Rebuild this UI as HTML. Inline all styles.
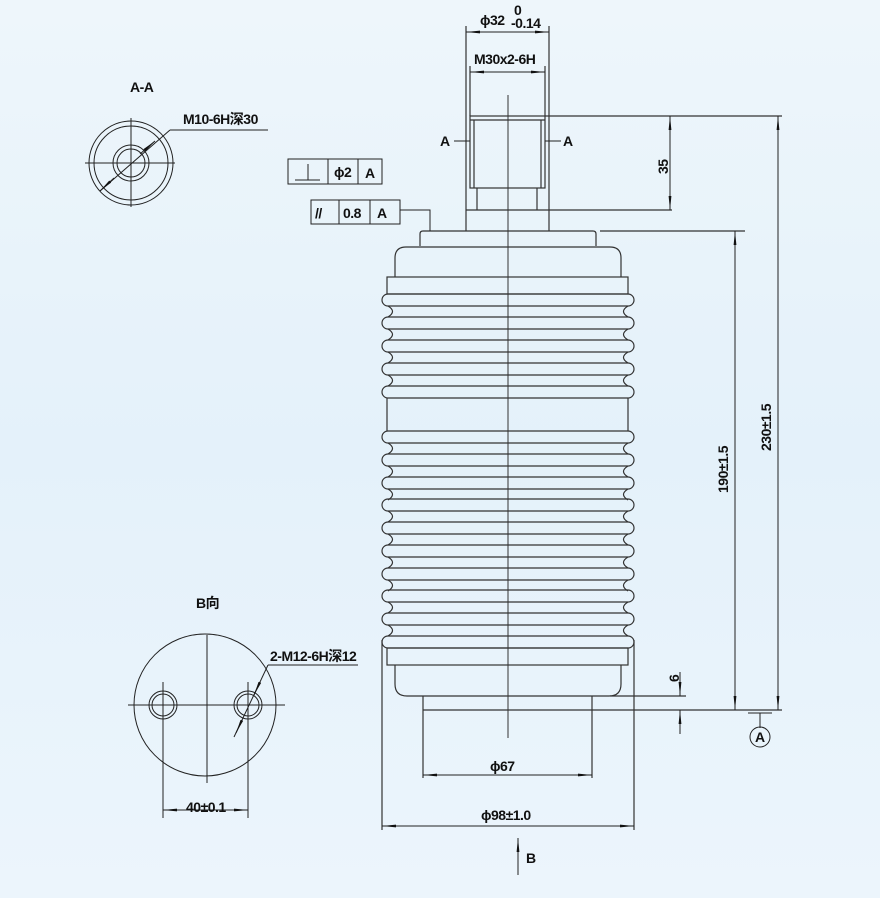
<!DOCTYPE html>
<html><head><meta charset="utf-8"><style>
html,body{margin:0;padding:0}
body{width:880px;height:898px;background:linear-gradient(#eef6fb,#e4f1fa 50%,#ecf5fc);overflow:hidden}
svg{display:block}
text{font-family:"Liberation Sans","Noto Sans CJK SC",sans-serif;font-size:14px;fill:#111;font-weight:bold;letter-spacing:-0.5px}
</style></head><body>
<svg width="880" height="898" viewBox="0 0 880 898" xmlns="http://www.w3.org/2000/svg">
<defs>
<marker id="ar" viewBox="0 0 14 6" refX="14" refY="3" markerWidth="14" markerHeight="6" orient="auto-start-reverse" markerUnits="userSpaceOnUse"><path d="M0,1.6 L14,3 L0,4.4Z" fill="#111"/></marker>
<g id="rib" fill="none" stroke="#333" stroke-width="1.2">
<line x1="388" y1="-6" x2="628" y2="-6"/><line x1="388" y1="6" x2="628" y2="6"/>
<path d="M388,-6 A6,6 0 0 0 388,6"/><path d="M628,-6 A6,6 0 0 1 628,6"/>
</g>
<g id="val" fill="none" stroke="#333" stroke-width="1.2">
<path d="M388,6 Q397,11.5 388,17"/><path d="M628,6 Q619,11.5 628,17"/>
</g>
</defs>
<g fill="none" stroke="#333" stroke-width="1.2">
<line x1="466" y1="26" x2="466" y2="231"/><line x1="549" y1="26" x2="549" y2="231"/>
<line x1="470" y1="66" x2="470" y2="116"/><line x1="545" y1="66" x2="545" y2="116"/>
<rect x="470" y="116" width="75" height="72"/>
<line x1="474" y1="120" x2="474" y2="188"/><line x1="541" y1="120" x2="541" y2="188"/>
<line x1="470" y1="120" x2="545" y2="120"/>
<line x1="477" y1="188" x2="477" y2="210"/><line x1="537" y1="188" x2="537" y2="210"/>
<line x1="466" y1="210" x2="672" y2="210"/>
<line x1="545" y1="116" x2="782" y2="116"/>
<path d="M420,246 V234 Q420,231 423,231 H593 Q596,231 596,234 V246"/>
<path d="M395,277 V258 Q395,247 406,247 H610 Q621,247 621,258 V277"/>
<rect x="387" y="277" width="241" height="17"/>
<line x1="387" y1="398" x2="387" y2="431"/><line x1="628" y1="398" x2="628" y2="431"/>
<rect x="387" y="648" width="241" height="17"/>
<path d="M395,665 V684 Q395,696 407,696 H609 Q621,696 621,684 V665"/>
<line x1="423" y1="696" x2="423" y2="778"/><line x1="592" y1="696" x2="592" y2="778"/>
<line x1="423" y1="710" x2="782" y2="710"/>
<line x1="610" y1="696" x2="686" y2="696"/>
<line x1="382" y1="640" x2="382" y2="830"/><line x1="634" y1="640" x2="634" y2="830"/>
<line x1="600" y1="231" x2="745" y2="231"/>
</g>
<use href="#rib" y="300"/><use href="#val" y="300"/>
<use href="#rib" y="323"/><use href="#val" y="323"/>
<use href="#rib" y="346"/><use href="#val" y="346"/>
<use href="#rib" y="369"/><use href="#val" y="369"/>
<use href="#rib" y="392"/>
<use href="#rib" y="437"/><use href="#val" y="437"/>
<use href="#rib" y="460"/><use href="#val" y="460"/>
<use href="#rib" y="483"/><use href="#val" y="483"/>
<use href="#rib" y="505"/><use href="#val" y="505"/>
<use href="#rib" y="528"/><use href="#val" y="528"/>
<use href="#rib" y="551"/><use href="#val" y="551"/>
<use href="#rib" y="574"/><use href="#val" y="574"/>
<use href="#rib" y="596"/><use href="#val" y="596"/>
<use href="#rib" y="619"/><use href="#val" y="619"/>
<use href="#rib" y="642"/>
<line x1="508" y1="95" x2="508" y2="738" stroke="#333" stroke-width="1"/>
<g stroke="#222" stroke-width="1" fill="none">
<line x1="466" y1="32" x2="549" y2="32" marker-start="url(#ar)" marker-end="url(#ar)"/>
<line x1="470" y1="72" x2="545" y2="72" marker-start="url(#ar)" marker-end="url(#ar)"/>
<line x1="670" y1="116" x2="670" y2="210" marker-start="url(#ar)" marker-end="url(#ar)"/>
<line x1="735" y1="231" x2="735" y2="710" marker-start="url(#ar)" marker-end="url(#ar)"/>
<line x1="778" y1="116" x2="778" y2="710" marker-start="url(#ar)" marker-end="url(#ar)"/>
<line x1="680" y1="672" x2="680" y2="696" marker-end="url(#ar)"/>
<line x1="680" y1="734" x2="680" y2="710" marker-end="url(#ar)"/>
<line x1="423" y1="775" x2="592" y2="775" marker-start="url(#ar)" marker-end="url(#ar)"/>
<line x1="382" y1="826" x2="634" y2="826" marker-start="url(#ar)" marker-end="url(#ar)"/>
<line x1="518" y1="875" x2="518" y2="838" marker-end="url(#ar)"/>
<line x1="454" y1="141" x2="470" y2="141"/><line x1="545" y1="141" x2="561" y2="141"/>
<line x1="748" y1="713" x2="772" y2="713"/><line x1="760" y1="713" x2="760" y2="728"/>
<circle cx="760" cy="737" r="10"/>
<rect x="288" y="159" width="94" height="25"/><line x1="328" y1="159" x2="328" y2="184"/><line x1="358" y1="159" x2="358" y2="184"/>
<line x1="295" y1="180" x2="320" y2="180"/><line x1="308" y1="164" x2="308" y2="180"/>
<rect x="311" y="200" width="89" height="24"/><line x1="339" y1="200" x2="339" y2="224"/><line x1="370" y1="200" x2="370" y2="224"/>
<polyline points="400,210 430,210 430,231"/>
<circle cx="131" cy="163" r="42"/><circle cx="131" cy="163" r="37"/>
<circle cx="131" cy="163" r="18"/><circle cx="131" cy="163" r="14"/>
<line x1="85" y1="163" x2="175" y2="163"/><line x1="131" y1="118" x2="131" y2="207"/>
<line x1="100" y1="191" x2="170" y2="130"/><line x1="170" y1="130" x2="268" y2="130"/>
<line x1="100" y1="191" x2="114" y2="178" marker-start="url(#ar)"/>
<line x1="140" y1="154" x2="155" y2="141" marker-end="url(#ar)" />
<circle cx="205" cy="705" r="71"/>
<circle cx="163" cy="705" r="14"/><circle cx="163" cy="705" r="11"/>
<circle cx="248" cy="705" r="14"/><circle cx="248" cy="705" r="11"/>
<line x1="128" y1="705" x2="285" y2="705"/><line x1="207" y1="635" x2="207" y2="783"/>
<line x1="163" y1="682" x2="163" y2="818"/><line x1="248" y1="682" x2="248" y2="818"/>
<line x1="163" y1="810" x2="248" y2="810" marker-start="url(#ar)" marker-end="url(#ar)"/>
<line x1="234" y1="737" x2="268" y2="665"/><line x1="268" y1="665" x2="358" y2="665"/>
<line x1="236" y1="733" x2="242" y2="720" marker-start="url(#ar)"/>
<line x1="254" y1="695" x2="260" y2="682" marker-start="url(#ar)"/>
</g>
<g>
<text x="480" y="25">ϕ32</text><text x="514" y="15" font-size="9">0</text><text x="511" y="28" font-size="9">-0.14</text>
<text x="474" y="64">M30x2-6H</text>
<text x="440" y="146">A</text><text x="563" y="146">A</text>
<text transform="translate(668,174) rotate(-90)">35</text>
<text transform="translate(728,493) rotate(-90)">190±1.5</text>
<text transform="translate(771,451) rotate(-90)">230±1.5</text>
<text transform="translate(679,682) rotate(-90)">6</text>
<text x="755" y="742" font-size="12">A</text>
<text x="490" y="771">ϕ67</text>
<text x="481" y="820">ϕ98±1.0</text>
<text x="526" y="863">B</text>
<text x="334" y="177">ϕ2</text><text x="365" y="178">A</text>
<text x="315" y="218">//</text><text x="343" y="218">0.8</text><text x="377" y="218">A</text>
<text x="130" y="92">A-A</text>
<text x="183" y="124">M10-6H深30</text>
<text x="196" y="608" font-size="12">B向</text>
<text x="270" y="661" font-size="12">2-M12-6H深12</text>
<text x="186" y="812" font-size="12">40±0.1</text>
</g>
</svg>
</body></html>
